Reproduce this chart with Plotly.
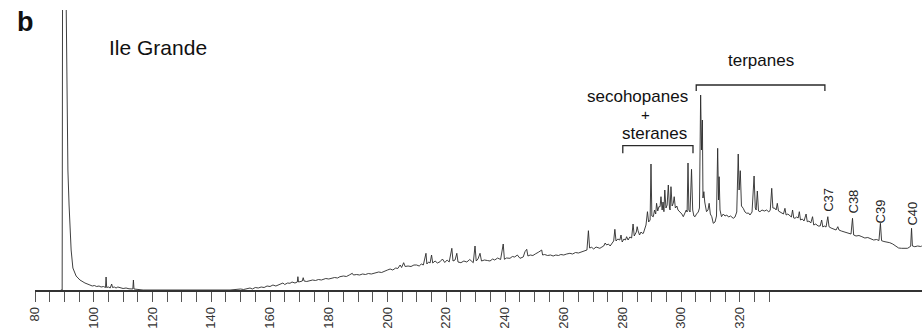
import plotly.graph_objects as go

# ---- data (retention axis units, relative abundance) ----
rt = [
    88.8, 89.25, 89.5, 90.5, 90.9, 91.2, 91.6, 91.9, 92.3, 92.9, 94.0, 95.3, 97.0, 98.7,
    99.5, 100.2, 101.0, 101.8, 102.5, 103.3, 104.0, 104.2, 104.4, 105.0, 105.6, 106.1, 106.4,
    107.0, 107.6, 108.2, 109.0, 110.0, 111.0, 112.0, 113.3, 113.5, 113.7, 114.5, 115.5, 116.8,
    146.4, 148.0, 150.0, 151.0, 152.0, 153.2, 154.0, 155.0, 156.0, 157.0, 158.0, 159.0, 160.0,
    161.0, 162.0, 163.0, 164.4, 165.0, 166.0, 166.8, 167.5, 168.5, 169.3, 169.5, 169.7, 170.2,
    171.0, 171.3, 171.6, 172.5, 173.6, 174.5, 175.5, 176.5, 177.5, 178.1, 179.0, 180.0, 181.0,
    182.0, 183.0, 183.8, 185.0, 186.0, 187.0, 188.0, 188.4, 189.5, 190.5, 191.5, 192.5, 193.5,
    194.5, 195.2, 196.2, 197.0, 198.0, 199.0, 200.0, 200.9, 201.8, 202.8, 203.5, 204.3, 204.8,
    205.5, 206.0, 207.0, 208.0, 209.0, 209.9, 210.8, 211.5, 212.2, 213.1, 213.4, 214.0, 214.5,
    215.0, 215.4, 216.2, 217.0, 217.9, 218.7, 219.5, 220.3, 221.0, 221.9, 222.3, 223.0, 223.6,
    224.0, 225.0, 226.0, 227.0, 228.0, 229.2, 229.8, 230.2, 230.8, 231.5, 232.0, 233.0, 234.0,
    234.9, 235.8, 236.5, 237.5, 238.5, 239.4, 239.8, 240.5, 241.7, 242.5, 243.3, 244.2, 245.1,
    246.2, 246.8, 247.4, 247.8, 248.6, 249.5, 250.3, 250.8, 251.5, 252.5, 252.8, 253.5, 254.5,
    255.5, 256.4, 257.3, 258.2, 259.0, 260.0, 261.0, 262.1, 263.0, 264.0, 265.0, 266.0, 266.7,
    267.3, 267.9, 268.4, 268.8, 269.5, 270.2, 271.0, 271.7, 272.3, 273.0, 273.6, 274.1, 274.6,
    275.2, 275.8, 276.5, 277.0, 277.4, 277.8, 278.4, 279.1, 279.5, 279.9, 280.5, 281.0, 281.4,
    281.9, 282.5, 283.1, 283.6, 284.0, 284.7, 285.0, 285.3, 285.8, 286.3, 286.7, 287.1, 287.6,
    288.0, 288.5, 288.9, 289.4, 289.7, 290.0, 290.5, 290.9, 291.3, 291.6, 292.0, 292.4, 292.8,
    293.1, 293.5, 293.8, 294.1, 294.4, 294.8, 295.2, 295.6, 296.0, 296.2, 296.5, 296.9, 297.3,
    297.6, 298.0, 298.5, 298.9, 299.6, 300.2, 300.7, 301.2, 301.7, 302.0, 302.3, 302.6, 303.0,
    303.5, 303.9, 304.3, 304.7, 305.2, 305.8, 306.2, 306.6, 306.9, 307.2, 307.4, 307.7, 308.0,
    308.6, 309.1, 309.5, 309.9, 310.4, 310.9, 311.5, 312.0, 312.4, 312.7, 312.9, 313.2, 313.7,
    314.3, 314.9, 315.5, 316.1, 316.8, 317.7, 318.3, 318.9, 319.4, 319.7, 320.1, 320.5, 321.1,
    321.7, 322.3, 322.9, 323.4, 324.1, 324.8, 325.2, 325.5, 325.9, 326.3, 326.8, 327.5, 328.3,
    329.1, 329.8, 330.3, 330.8, 331.2, 331.9, 332.3, 332.7, 333.1, 333.6, 334.3, 334.8, 335.3,
    335.7, 336.3, 337.0, 337.5, 337.9, 338.3, 338.7, 339.3, 339.8, 340.2, 340.6, 341.2, 341.8,
    342.5, 342.9, 343.5, 344.1, 344.7, 345.1, 345.8, 346.6, 347.3, 347.8, 348.2, 348.7, 349.3,
    349.9, 350.3, 351.0, 352.0, 352.7, 353.3, 353.7, 354.5, 355.5, 356.5, 357.2, 357.8, 358.3,
    358.7, 359.5, 360.5, 361.5, 362.5, 363.5, 364.5, 365.5, 366.5, 367.3, 367.8, 368.2, 369.0,
    370.0, 371.0, 372.0, 373.0, 374.0, 375.0, 376.0, 377.0, 377.8, 378.1, 378.4, 378.7, 379.5,
    380.5, 381.5, 381.9,
]
abundance = [
    0, 0, 600, 290, 170, 120, 85, 57, 40, 22, 14, 10, 7, 5,
    4, 4.5, 3.5, 4, 3, 3.5, 2.5, 13, 2.5, 3, 2, 6, 2.5,
    3, 2, 3, 2, 1.5, 2, 1.2, 1, 10, 1, 0.8, 0.4, 0,
    0, 0.5, 1, 0.5, 1.5, 2, 1, 2.5, 2, 3, 2.5, 4, 3.5,
    5, 4, 5.5, 7, 5.5, 7, 6.7, 8, 7, 8, 13.3, 8, 8.3,
    9, 12.3, 9, 8.5, 9.3, 10, 9.5, 10.5, 10, 10.7, 11.5, 11, 12,
    12.5, 12, 13.3, 14, 13.5, 15, 16.7, 15, 15.5, 15, 16, 15.5, 16.5,
    16, 16.7, 17.5, 18, 17.5, 19, 20, 21, 20, 22, 21.5, 25, 22.5,
    27.3, 23.5, 24, 23.5, 25, 25, 24, 26, 25, 36.7, 26, 28, 27,
    35, 27, 29, 27, 28.3, 31, 27.5, 30, 28, 41.7, 29, 30, 36.7,
    28, 27.3, 29, 28, 30.5, 27.3, 44, 29, 31, 36.7, 29, 30, 29.5,
    29, 31, 30, 32, 30.5, 46, 30.7, 32, 31.7, 33.5, 33, 35, 31.7,
    33, 38.3, 40.7, 34, 35, 34.5, 36, 36.7, 38, 40, 35, 35.5, 34.5,
    35, 34, 35, 34.5, 35.5, 35, 36, 36.7, 36, 37.5, 37, 38, 38.3,
    39, 40, 59.3, 42, 42.7, 41, 43, 42.5, 41.7, 43, 44, 47, 45,
    46, 44, 47, 49, 60.7, 49, 51, 50, 55, 48, 51, 50, 53.3,
    50, 53, 52, 66, 54, 58, 63.3, 59.3, 55, 58, 56.7, 56.7, 62,
    65, 78.3, 68, 70, 126, 74, 73.3, 80, 76, 86.7, 79, 83.3, 83.3,
    93.3, 80, 88, 78.3, 100, 82, 85, 105, 82, 80, 103.3, 84, 86.7,
    93.3, 82, 84, 80, 78.3, 76, 73.3, 76, 80, 78, 127, 80, 78,
    120.7, 80, 74, 73.3, 76, 78, 82, 195, 140, 170, 92, 98.3, 88,
    78.3, 80, 86.7, 76, 73.3, 66.7, 68, 74, 141.7, 90, 113.3, 80, 73.3,
    76, 74, 75, 73, 74, 71.7, 73, 78, 136, 100, 119.3, 84, 81.7,
    78, 76.7, 77, 75, 78, 114, 82, 80, 99, 79, 78.3, 80, 79,
    80, 78, 80, 101.7, 82, 81.7, 80, 86.7, 79, 78.3, 77, 76, 81.7,
    75, 76, 74, 73, 80, 72, 71.7, 73, 72, 78.3, 70, 71, 69,
    76, 68.3, 69, 67, 73.3, 65, 66, 64, 64, 70, 63, 64, 63,
    73.3, 63.3, 62, 61, 60, 63.3, 60, 59, 58, 57, 56.7, 56, 71.7,
    55, 54, 54.5, 53.3, 52, 52.5, 51, 50, 50.5, 49.5, 66.7, 49.3, 48.5,
    48, 47.3, 46, 44, 42, 41.7, 42, 41.7, 43, 44, 61.7, 44, 43.3,
    44, 43.5, 44,
]

tick_positions = list(range(80, 335, 5))
tick_label_values = [80, 100, 120, 140, 160, 180, 200, 220, 240, 260, 280, 300, 320]
tick_texts = [str(v) if v in tick_label_values else "" for v in tick_positions]

carbon_labels = ["C37", "C38", "C39", "C40"]
carbon_rt = [349.9, 358.3, 367.8, 378.4]
carbon_label_y = [90, 88, 79, 76]

terpane_range = [305.1, 348.9]
seco_range = [280.1, 304.0]

FONT = "Liberation Sans, Arial, sans-serif"
INK = "#2a2a2a"

fig = go.Figure()
fig.add_trace(go.Scatter(
    x=rt, y=abundance, mode="lines",
    line=dict(color=INK, width=0.9),
    hoverinfo="skip", showlegend=False,
))

# brackets
def bracket(x0, x1, y, leg):
    fig.add_shape(type="path",
                  path=f"M {x0},{y - leg} L {x0},{y} L {x1},{y} L {x1},{y - leg}",
                  xref="x", yref="y", line=dict(color=INK, width=1.3))

bracket(terpane_range[0], terpane_range[1], 205, 6)
bracket(seco_range[0], seco_range[1], 144.3, 7.5)

ann = []
ann.append(dict(x=-0.0225, y=268, xref="paper", yref="y", text="<b>b</b>",
                showarrow=False, font=dict(family=FONT, size=27, color="#111")))
ann.append(dict(x=121.9, y=242.5, text="Ile Grande", showarrow=False,
                font=dict(family=FONT, size=21, color="#111")))
ann.append(dict(x=327.3, y=230, text="terpanes", showarrow=False,
                font=dict(family=FONT, size=17, color="#111")))
ann.append(dict(x=285.1, y=194.5, text="secohopanes", showarrow=False, height=18,
                font=dict(family=FONT, size=17, color="#111")))
ann.append(dict(x=288.0, y=176.5, text="+", showarrow=False, height=12,
                font=dict(family=FONT, size=15, color="#111")))
ann.append(dict(x=291.0, y=157.5, text="steranes", showarrow=False, height=18,
                font=dict(family=FONT, size=17, color="#111")))
for lab, xv, yv in zip(carbon_labels, carbon_rt, carbon_label_y):
    ann.append(dict(x=xv, y=yv, text=lab, showarrow=False, textangle=-90,
                    font=dict(family=FONT, size=13, color="#222")))

fig.update_layout(
    width=922, height=333,
    margin=dict(l=35, r=0, t=10, b=43),
    paper_bgcolor="white", plot_bgcolor="white",
    annotations=ann,
    xaxis=dict(
        range=[80, 381.96], showgrid=False, zeroline=False, automargin=False,
        showline=True, linecolor="#333", linewidth=1.5,
        ticks="outside", ticklen=10, tickwidth=1.3, tickcolor="#555",
        tickmode="array", tickvals=tick_positions, ticktext=tick_texts,
        tickangle=-90, tickfont=dict(family=FONT, size=13, color="#333"),
    ),
    yaxis=dict(range=[0, 280], visible=False),
)

fig.write_html("out.html", config={"displayModeBar": False},
               post_script="document.body.style.margin='0';document.body.style.overflow='hidden';")
